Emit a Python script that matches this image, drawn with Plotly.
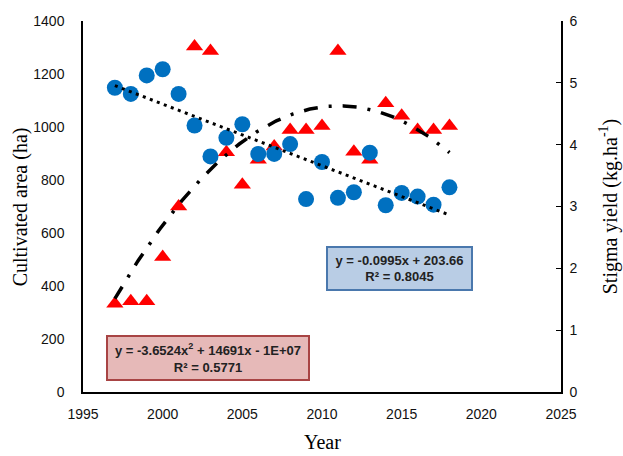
import numpy as np
import plotly.graph_objects as go

years = list(range(1997, 2019))
# Cultivated area (ha) - red triangles, left axis
area = [333, 342, 342, 509, 700, 1304, 1287, 905, 782, 876, 926, 989, 989,
        1004, 1287, 907, 876, 1090, 1042, 989, 989, 1004]
# Stigma yield (kg/ha) - blue circles, right axis
yield_ = [4.92, 4.82, 5.12, 5.22, 4.82, 4.31, 3.81, 4.11, 4.33, 3.85, 3.85,
          4.01, 3.12, 3.72, 3.14, 3.23, 3.87, 3.02, 3.22, 3.16, 3.03, 3.31]

x_ticks = [1995, 2000, 2005, 2010, 2015, 2020, 2025]
left_ticks = [0, 200, 400, 600, 800, 1000, 1200, 1400]
right_ticks = [0, 1, 2, 3, 4, 5, 6]

eq_yield = "<b>y = -0.0995x + 203.66<br>R² = 0.8045</b>"
eq_area = "<b>y = -3.6524x<sup>2</sup> + 14691x - 1E+07<br>R² = 0.5771</b>"

xa = np.array(years, dtype=float)
xc = xa - 2007.5
grid = np.linspace(1997, 2018, 200)
qfit = np.polyfit(xc, np.array(area, float), 2)
qline = np.polyval(qfit, grid - 2007.5)
lfit = np.polyfit(xa, np.array(yield_, float), 1)
lline = np.polyval(lfit, grid)

fig = go.Figure()
fig.add_trace(go.Scatter(x=years, y=area, mode="markers", yaxis="y",
                         marker=dict(symbol="triangle-up", size=15, color="#FF0000"),
                         showlegend=False))
fig.add_trace(go.Scatter(x=grid, y=qline, mode="lines", yaxis="y",
                         line=dict(color="black", width=3.5, dash="14px,11px,3px,11px"),
                         showlegend=False))
fig.add_trace(go.Scatter(x=years, y=yield_, mode="markers", yaxis="y2",
                         marker=dict(symbol="circle", size=16, color="#0070C0"),
                         showlegend=False))
fig.add_trace(go.Scatter(x=grid, y=lline, mode="lines", yaxis="y2",
                         line=dict(color="black", width=3, dash="3px,4.5px"),
                         showlegend=False))

tickfont = dict(family="Liberation Sans, Arial", size=14, color="#111")
fig.update_layout(
    width=623, height=456,
    margin=dict(l=83, r=62, t=21, b=63.5),
    plot_bgcolor="white", paper_bgcolor="white",
    xaxis=dict(range=[1995, 2025], tickvals=x_ticks, showgrid=False, zeroline=False,
               showline=True, linecolor="black", linewidth=1.5, ticks="",
               tickfont=tickfont, ticklabelstandoff=8),
    yaxis=dict(range=[0, 1400], tickvals=left_ticks, showgrid=False, zeroline=False,
               showline=True, linecolor="black", linewidth=1.5, ticks="",
               tickfont=tickfont, ticklabelstandoff=14),
    yaxis2=dict(range=[0, 6], tickvals=right_ticks, overlaying="y", side="right",
                showgrid=False, zeroline=False, showline=True, linecolor="black",
                linewidth=1.5, ticks="inside", ticklen=5, tickcolor="black",
                tickfont=tickfont, ticklabelstandoff=4),
    annotations=[
        dict(text="Cultivated area (ha)", xref="paper", yref="paper", x=-0.13, y=0.5,
             textangle=-90, showarrow=False, xanchor="center", yanchor="middle",
             font=dict(family="Liberation Serif, Times New Roman", size=20, color="black")),
        dict(text="Stigma yield (kg.ha<sup>-1</sup>)", xref="paper", yref="paper",
             x=1.1, y=0.5, textangle=-90, showarrow=False, xanchor="center",
             yanchor="middle",
             font=dict(family="Liberation Serif, Times New Roman", size=20, color="black")),
        dict(text="Year", xref="paper", yref="paper", x=0.5, y=-0.135, showarrow=False,
             xanchor="center", yanchor="middle",
             font=dict(family="Liberation Serif, Times New Roman", size=20, color="black")),
        dict(text=eq_yield, xref="paper", yref="paper", x=(399 - 83) / 478,
             y=(392.5 - 269) / 371.5, showarrow=False, xanchor="center", yanchor="middle",
             width=143, height=41, bgcolor="#B9CDE5", bordercolor="#4A78AD",
             borderwidth=2, borderpad=0, align="center",
             font=dict(family="Liberation Sans, Arial", size=13, color="#222")),
        dict(text=eq_area, xref="paper", yref="paper", x=(208 - 83) / 478,
             y=(392.5 - 358.5) / 371.5, showarrow=False, xanchor="center", yanchor="middle",
             width=200, height=42, bgcolor="#E6B9B8", bordercolor="#A84444",
             borderwidth=2, borderpad=0, align="center",
             font=dict(family="Liberation Sans, Arial", size=13, color="#222")),
    ],
)
fig.write_html("out.html")
